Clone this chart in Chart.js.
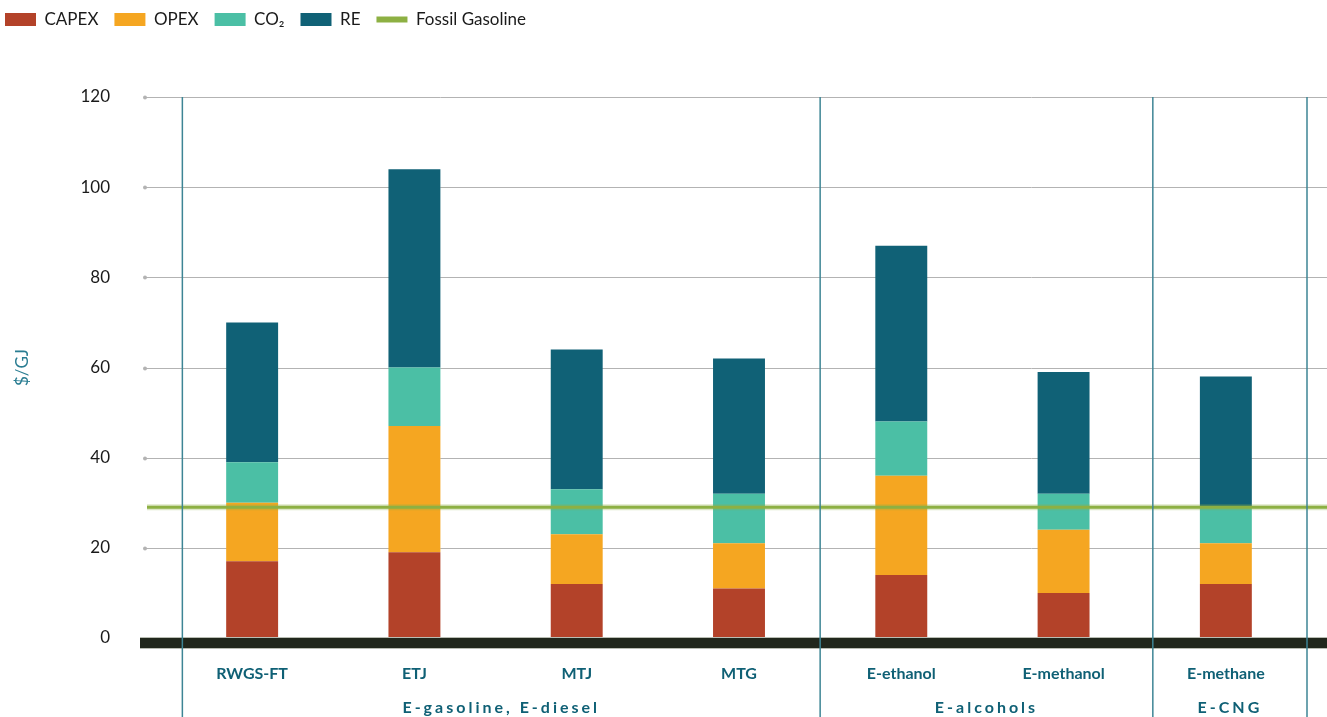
<!DOCTYPE html>
<html>
<head>
<meta charset="utf-8">
<script src="https://cdn.jsdelivr.net/npm/chart.js@4.4.0/dist/chart.umd.min.js"></script>
<style>
  html, body { margin: 0; padding: 0; background: #fff; }
  #wrap { width: 1327px; height: 717px; }
</style>
</head>
<body>
<div id="wrap"><canvas id="myChart"></canvas></div>
<script>
// values ($/GJ)
var categories = ['RWGS-FT', 'ETJ', 'MTJ', 'MTG', 'E-ethanol', 'E-methanol', 'E-methane'];
var capex = [17, 19, 12, 11, 14, 10, 12];
var opex  = [13, 28, 11, 10, 22, 14, 9];
var co2   = [9, 13, 10, 11, 12, 8, 8];
var re    = [31, 44, 31, 30, 39, 27, 29];
var fossilGasoline = 29;
var groupNames = ['E-gasoline, E-diesel', 'E-alcohols', 'E-CNG'];
var groupEdges = [-0.43, 3.5, 5.55, 6.5]; // in category units

var teal = '#0f6075';

var decor = {
    id: 'decor',
    afterLayout: function(chart) {
        // pull the legend up/left so the first swatch sits near the edge
        chart.legend.left = -11;
        chart.legend.top = -5;
    },
    beforeDatasetsDraw: function(chart) {
        var ctx = chart.ctx, y = chart.scales.y;
        ctx.save();
        y.ticks.forEach(function(t) {
            if (t.value === 0) return;
            var py = Math.round(y.getPixelForValue(t.value)) + 0.5;
            ctx.strokeStyle = '#b3b3b3';
            ctx.lineWidth = 1;
            ctx.beginPath();
            ctx.moveTo(145, py);
            ctx.lineTo(chart.width, py);
            ctx.stroke();
            ctx.fillStyle = '#b3b3b3';
            ctx.beginPath();
            ctx.arc(145, py, 2, 0, Math.PI * 2);
            ctx.fill();
        });
        ctx.restore();
    },
    afterDatasetsDraw: function(chart) {
        var ctx = chart.ctx, x = chart.scales.x, y = chart.scales.y, area = chart.chartArea;
        ctx.save();
        // fossil gasoline reference across the whole width
        var fy = y.getPixelForValue(fossilGasoline);
        ctx.strokeStyle = 'rgba(141,176,67,0.3)';
        ctx.lineWidth = 6;
        ctx.beginPath(); ctx.moveTo(147, fy); ctx.lineTo(chart.width, fy); ctx.stroke();
        ctx.strokeStyle = '#8db043';
        ctx.lineWidth = 3;
        ctx.beginPath(); ctx.moveTo(147, fy); ctx.lineTo(chart.width, fy); ctx.stroke();

        // heavy base line
        var by = y.getPixelForValue(0);
        ctx.fillStyle = '#b9bdb3';
        ctx.fillRect(140, by - 1, chart.width - 140, 12);
        ctx.fillStyle = '#21271c';
        ctx.fillRect(140, by, chart.width - 140, 10);

        // group separators
        ctx.strokeStyle = '#3d8595';
        ctx.lineWidth = 1.5;
        groupEdges.forEach(function(v) {
            var px = x.getPixelForValue(v);
            ctx.beginPath(); ctx.moveTo(px, area.top); ctx.lineTo(px, chart.height); ctx.stroke();
        });

        // group names
        ctx.fillStyle = teal;
        ctx.font = 'bold 16px Lato';
        ctx.letterSpacing = '3px';
        ctx.textAlign = 'center';
        ctx.textBaseline = 'middle';
        groupNames.forEach(function(name, i) {
            var cx = (x.getPixelForValue(groupEdges[i]) + x.getPixelForValue(groupEdges[i + 1])) / 2;
            ctx.fillText(name, cx, 708);
        });
        ctx.restore();
    }
};

new Chart('myChart', {
    type: 'bar',
    data: {
        labels: categories,
        datasets: [
            { label: 'CAPEX', data: capex, backgroundColor: '#b34229', pointStyle: 'rect' },
            { label: 'OPEX', data: opex, backgroundColor: '#f5a621', pointStyle: 'rect' },
            { label: 'CO\u2082', data: co2, backgroundColor: '#4bbfa5', pointStyle: 'rect' },
            { label: 'RE', data: re, backgroundColor: '#106176', pointStyle: 'rect' },
            {
                type: 'line', label: 'Fossil Gasoline',
                data: categories.map(function() { return fossilGasoline; }),
                borderColor: '#8db043', backgroundColor: '#8db043',
                borderWidth: 6, showLine: false, pointRadius: 0, pointStyle: 'line'
            }
        ]
    },
    options: {
        responsive: true,
        maintainAspectRatio: false,
        animation: false,
        layout: { padding: { left: 0, right: 20, top: 54, bottom: 0 } },
        datasets: { bar: { barPercentage: 0.32, categoryPercentage: 1 } },
        plugins: {
            legend: {
                position: 'top',
                align: 'start',
                labels: {
                    usePointStyle: true,
                    pointStyleWidth: 31,
                    boxHeight: 13,
                    padding: 16,
                    color: '#1a1a1a',
                    font: { family: 'Lato', size: 17 }
                }
            },
            tooltip: { enabled: false }
        },
        scales: {
            x: {
                stacked: true,
                grid: { display: false, drawTicks: false },
                border: { display: false },
                ticks: { color: teal, padding: 26, font: { family: 'Lato', size: 16, weight: 'bold' } },
                afterFit: function(s) { s.height = 79; }
            },
            y: {
                stacked: true,
                min: 0, max: 120,
                grid: { display: false, drawTicks: false },
                border: { display: false },
                ticks: { stepSize: 20, color: '#1a1a1a', padding: 61, font: { family: 'Lato', size: 17 } },
                title: { display: true, text: '$/GJ', color: '#2a7d92', padding: { top: 12, bottom: 0 }, font: { family: 'Lato', size: 17 } },
                afterFit: function(s) { s.width = 171; }
            }
        }
    },
    plugins: [decor]
});
</script>
</body>
</html>
